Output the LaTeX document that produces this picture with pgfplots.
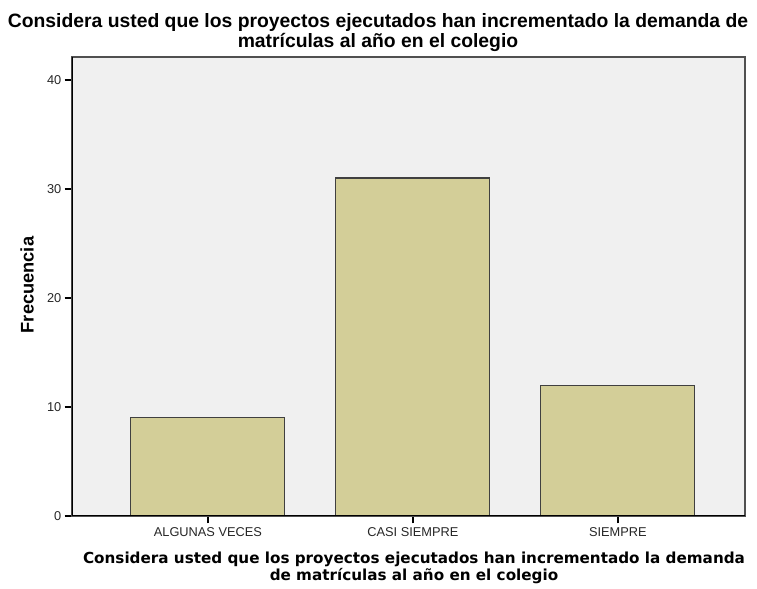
\documentclass[border=0pt]{standalone}
\usepackage{fontspec}
\setmainfont{Liberation Sans}
\newfontfamily\verdanafont{DejaVu Sans}
\usepackage{pgfplots}
\pgfplotsset{compat=1.18}
\definecolor{barfill}{RGB}{211,206,152}
\definecolor{plotbg}{RGB}{240,240,240}
\definecolor{framegray}{RGB}{80,80,80}
\begin{document}
\begin{tikzpicture}
\useasboundingbox (-54pt,-54.75pt) rectangle (513.75pt,387pt);
\begin{axis}[
  at={(0pt,0pt)}, anchor=south west, scale only axis,
  width=504.75pt, height=344.25pt,
  xmin=-0.663, xmax=2.62,
  ymin=0, ymax=42.1,
  axis background/.style={fill=plotbg},
  axis line style={framegray, line width=0.8pt},
  xtick={0,1,2},
  xticklabels={ALGUNAS VECES, CASI SIEMPRE, SIEMPRE},
  ytick={0,10,20,30,40},
  xtick pos=bottom, ytick pos=left,
  xtick align=outside, ytick align=outside,
  major tick length=5.5pt,
  every tick/.append style={draw=black, line width=1pt},
  ticklabel style={font=\fontsize{9.6}{10}\selectfont, text=black!85},
  /pgf/number format/assume math mode=true,
  yticklabel style={xshift=1pt},
]
\addplot[ybar, bar width=0.751, bar shift=0pt, fill=barfill, draw=black!75, line width=0.8pt] coordinates {
  (0,9) (1,31) (2,12)
};
\draw[black, line width=0.9pt] (rel axis cs:0,1) -- (rel axis cs:0,0) -- (rel axis cs:1,0);
\end{axis}
\node[align=center, font=\bfseries\fontsize{14.5}{13.5}\selectfont] at (229.5pt,362.5pt)
  {Considera usted que los proyectos ejecutados han incrementado la demanda de\\matrículas al año en el colegio};
\node[rotate=90, font=\bfseries\fontsize{13.7}{14}\selectfont] at (-33.75pt,173.25pt) {Frecuencia};
\node[align=center, font=\verdanafont\bfseries\fontsize{11.4}{12.75}\selectfont] at (256.5pt,-39pt)
  {Considera usted que los proyectos ejecutados han incrementado la demanda\\de matrículas al año en el colegio};
\end{tikzpicture}
\end{document}
